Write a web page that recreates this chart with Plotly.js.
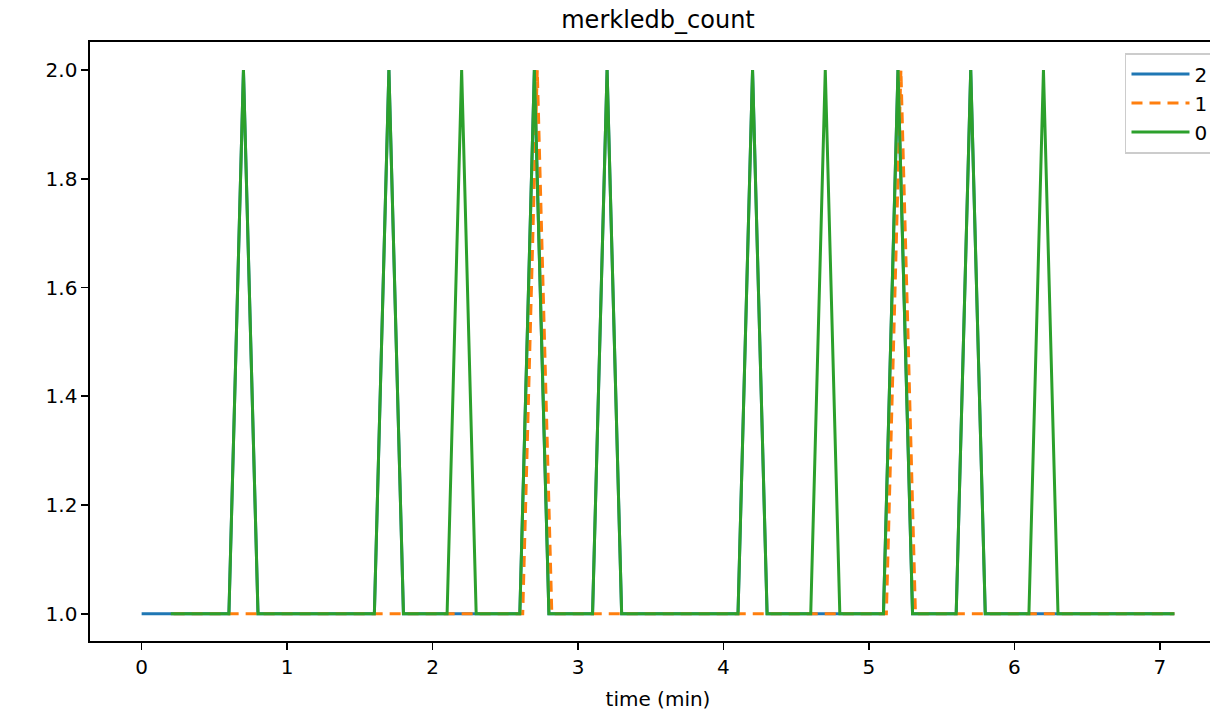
<!DOCTYPE html>
<html>
<head>
<meta charset="utf-8">
<script src="https://cdn.plot.ly/plotly-3.0.1.min.js"></script>
<style>html,body{margin:0;padding:0;background:#fff;overflow:hidden;width:1210px;height:717px;}#chart{width:1226px;height:717px;}</style>
</head>
<body>
<div id="chart"></div>
<script>
// Series "2": time (min) and values
const x2 = [0,0.1,0.2,0.3,0.4,0.5,0.6,0.7,0.8,0.9,1.0,1.1,1.2,1.3,1.4,1.5,1.6,1.7,1.8,1.9,2.0,2.1,2.2,2.3,2.4,2.5,2.6,2.7,2.8,2.9,3.0,3.1,3.2,3.3,3.4,3.5,3.6,3.7,3.8,3.9,4.0,4.1,4.2,4.3,4.4,4.5,4.6,4.7,4.8,4.9,5.0,5.1,5.2,5.3,5.4,5.5,5.6,5.7,5.8,5.9,6.0,6.1,6.2,6.3,6.4,6.5,6.6,6.7,6.8,6.9,7.0,7.1];
const y2 = [1,1,1,1,1,1,1,2,1,1,1,1,1,1,1,1,1,2,1,1,1,1,1,1,1,1,1,2,1,1,1,1,2,1,1,1,1,1,1,1,1,1,2,1,1,1,1,1,1,1,1,1,2,1,1,1,1,2,1,1,1,1,1,1,1,1,1,1,1,1,1,1];
// Series "1"
const x1 = [0.22,0.32,0.42,0.52,0.62,0.72,0.82,0.92,1.02,1.12,1.22,1.32,1.42,1.52,1.62,1.72,1.82,1.92,2.02,2.12,2.22,2.32,2.42,2.52,2.62,2.72,2.82,2.92,3.02,3.12,3.22,3.32,3.42,3.52,3.62,3.72,3.82,3.92,4.02,4.12,4.22,4.32,4.42,4.52,4.62,4.72,4.82,4.92,5.02,5.12,5.22,5.32,5.42,5.52,5.62,5.72,5.82,5.92,6.02,6.12,6.22,6.32,6.42,6.52,6.62,6.72,6.82,6.92,7.02,7.1];
const y1 = [1,1,1,1,1,1,1,1,1,1,1,1,1,1,1,1,1,1,1,1,1,1,1,1,1,2,1,1,1,1,1,1,1,1,1,1,1,1,1,1,1,1,1,1,1,1,1,1,1,1,2,1,1,1,1,1,1,1,1,1,1,1,1,1,1,1,1,1,1,1];
// Series "0"
const x0 = [0.2,0.3,0.4,0.5,0.6,0.7,0.8,0.9,1.0,1.1,1.2,1.3,1.4,1.5,1.6,1.7,1.8,1.9,2.0,2.1,2.2,2.3,2.4,2.5,2.6,2.7,2.8,2.9,3.0,3.1,3.2,3.3,3.4,3.5,3.6,3.7,3.8,3.9,4.0,4.1,4.2,4.3,4.4,4.5,4.6,4.7,4.8,4.9,5.0,5.1,5.2,5.3,5.4,5.5,5.6,5.7,5.8,5.9,6.0,6.1,6.2,6.3,6.4,6.5,6.6,6.7,6.8,6.9,7.0,7.1];
const y0 = [1,1,1,1,1,2,1,1,1,1,1,1,1,1,1,2,1,1,1,1,2,1,1,1,1,2,1,1,1,1,2,1,1,1,1,1,1,1,1,1,2,1,1,1,1,2,1,1,1,1,2,1,1,1,1,2,1,1,1,1,2,1,1,1,1,1,1,1,1,1];
const names = ["2","1","0"];
const titleText = "merkledb_count";
const xTitle = "time (min)";
const xTicks = [0,1,2,3,4,5,6,7];
const yTicks = [1.0,1.2,1.4,1.6,1.8,2.0];

const font = {family: "DejaVu Sans, sans-serif", size: 20, color: "#000"};
const traces = [
  {x: x2, y: y2, name: names[0], mode: "lines", line: {color: "#1f77b4", width: 3}},
  {x: x1, y: y1, name: names[1], mode: "lines", line: {color: "#ff7f0e", width: 3, dash: "11px,7px"}},
  {x: x0, y: y0, name: names[2], mode: "lines", line: {color: "#2ca02c", width: 3}}
];
const layout = {
  width: 1226, height: 717,
  margin: {l: 90, r: 0, t: 42, b: 76},
  paper_bgcolor: "#fff", plot_bgcolor: "#fff",
  font: font,
  showlegend: true,
  title: {text: titleText, x: 0.5, xref: "paper", xanchor: "center", y: 1, yref: "paper", yanchor: "bottom", pad: {b: 14}, font: {family: "DejaVu Sans, sans-serif", size: 24, color: "#000"}},
  xaxis: {
    range: [-0.355, 7.455], tickmode: "array", tickvals: xTicks, ticktext: xTicks.map(v => String(v)),
    showgrid: false, zeroline: false, showline: true, linecolor: "#000", linewidth: 1.6, mirror: true,
    ticks: "outside", ticklen: 7, tickwidth: 1.6, tickcolor: "#000",
    title: {text: xTitle, font: font, standoff: 14}, tickfont: font
  },
  yaxis: {
    range: [0.95, 2.0515], tickmode: "array", tickvals: yTicks, ticktext: yTicks.map(v => v.toFixed(1)),
    showgrid: false, zeroline: false, showline: true, linecolor: "#000", linewidth: 1.6, mirror: true,
    ticks: "outside", ticklen: 7, tickwidth: 1.6, tickcolor: "#000", tickfont: font
  },
  legend: {
    x: 0.911, xanchor: "left", y: 0.9816, yanchor: "top",
    bgcolor: "rgba(255,255,255,0.8)", bordercolor: "#cccccc", borderwidth: 1.6,
    font: {family: "DejaVu Sans, sans-serif", size: 20, color: "#000"},
    tracegroupgap: 0, itemwidth: 58
  }
};
Plotly.newPlot("chart", traces, layout, {displayModeBar: false, staticPlot: true});
</script>
</body>
</html>
